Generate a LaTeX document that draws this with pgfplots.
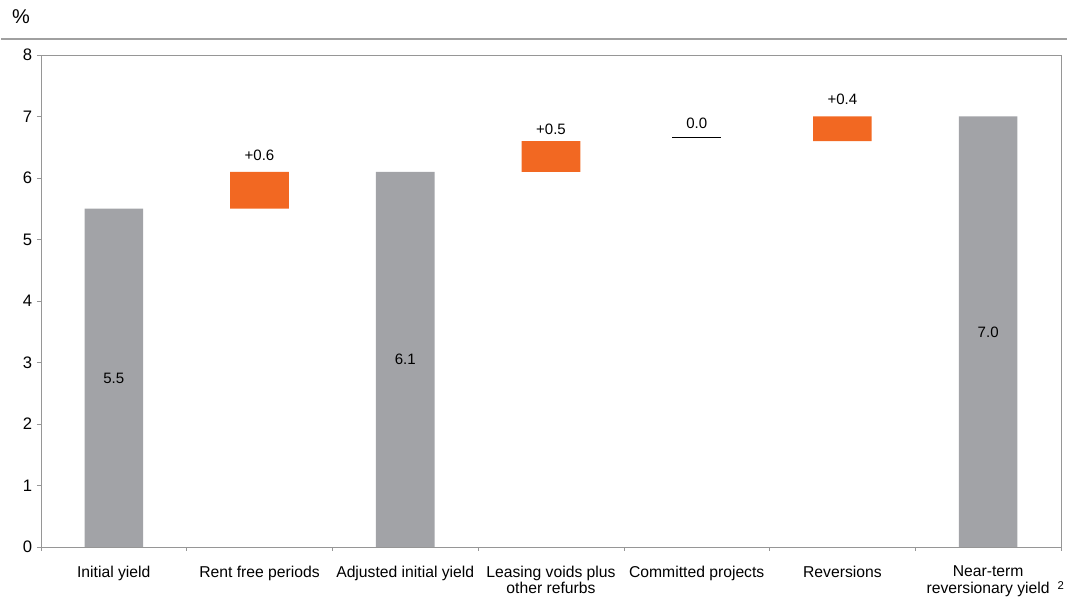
\documentclass[border=0pt]{standalone}
\usepackage{fontspec}
\setmainfont{Liberation Sans}
\usepackage{pgfplots}
\pgfplotsset{compat=1.18}
\definecolor{bargrey}{RGB}{162,163,167}
\definecolor{barorange}{RGB}{242,104,34}
\definecolor{axisgrey}{RGB}{150,150,150}
\pgfplotsset{common/.style={
  scale only axis, width=766.5pt, height=369.75pt,
  xmin=-0.5, xmax=6.5, ymin=0, ymax=8,
}}
\begin{document}
\begin{tikzpicture}
\begin{axis}[common,
  ybar stacked, bar width=44pt,
  axis line style={axisgrey},
  ytick={0,...,8},
  xtick={-0.5,0.5,...,6.5},
  x tick label as interval,
  xticklabels={Initial yield, Rent free periods, Adjusted initial yield, {Leasing voids plus\\other refurbs}, Committed projects, Reversions, {Near-term\\reversionary yield\rlap{\enspace\raisebox{0.5ex}{\fontsize{8.5}{9}\selectfont 2}}}},
  xticklabel style={align=center, font=\fontsize{11.8}{12.75}\selectfont, anchor=north, yshift=-7.5pt},
  yticklabel style={font=\fontsize{12.5}{14}\selectfont},
  /pgf/number format/assume math mode=true,
  tick align=outside, major tick length=3pt, tick style={axisgrey, thin},
  xtick pos=bottom, ytick pos=left,
]
\addplot[draw=none, fill=none] coordinates {(0,0)(1,5.5)(2,0)(3,6.1)(4,0)(5,6.6)(6,0)};
\addplot[fill=bargrey, draw=none] coordinates {(0,5.5)(1,0)(2,6.1)(3,0)(4,0)(5,0)(6,7.0)};
\addplot[fill=barorange, draw=none] coordinates {(0,0)(1,0.6)(2,0)(3,0.5)(4,0)(5,0.4)(6,0)};
\end{axis}
\begin{axis}[common, hide axis]
\addplot[draw=none, mark=none, nodes near coords, point meta=explicit symbolic,
  nodes near coords style={anchor=center, font=\fontsize{11.3}{13}\selectfont, text=black}]
  coordinates {(0,2.74)[5.5] (1,6.36)[+0.6] (2,3.05)[6.1] (3,6.79)[+0.5] (4,6.88)[0.0] (5,7.27)[+0.4] (6,3.49)[7.0]};
\addplot[black, line width=0.8pt, mark=none] coordinates {(3.832,6.66) (4.168,6.66)};
\end{axis}
\draw[axisgrey!90, line width=1.5pt] ([shift={(-30pt,12pt)}]current axis.north west) -- ([shift={(4.5pt,12pt)}]current axis.north east);
\node[font=\fontsize{15}{17}\selectfont] at ([shift={(-15pt,28.5pt)}]current axis.north west) {\%};
\path[use as bounding box] ([shift={(-30pt,41.25pt)}]current axis.north west) rectangle ([shift={(4.5pt,-40.5pt)}]current axis.south east);
\end{tikzpicture}
\end{document}
